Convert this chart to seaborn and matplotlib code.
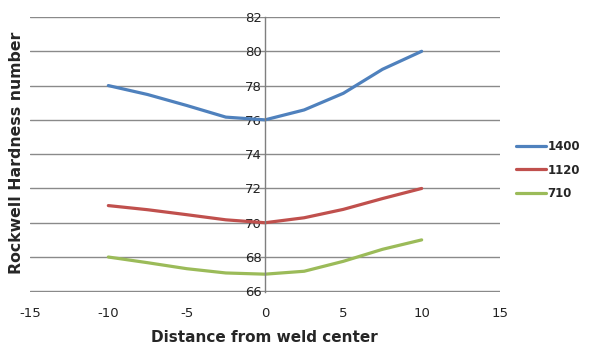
import numpy as np
import pandas as pd
import seaborn as sns
import matplotlib.pyplot as plt

# Valores
distance = [-10, -7.5, -5, -2.5, 0, 2.5, 5, 7.5, 10]
h_1400 = [78, 77.48, 76.84, 76.16, 76.0, 76.58, 77.55, 78.95, 80]
h_1120 = [71, 70.76, 70.47, 70.17, 70.0, 70.29, 70.78, 71.41, 72]
h_710 = [68, 67.67, 67.32, 67.07, 67.0, 67.17, 67.75, 68.45, 69.0]
series = ["1400", "1120", "710"]
colors = ["#4F81BD", "#C0504D", "#9BBB59"]

x_ticks = [-15, -10, -5, 0, 5, 10, 15]
y_ticks = [66, 68, 70, 72, 74, 76, 78, 80, 82]

df = pd.DataFrame({
    "x": distance * 3,
    "y": h_1400 + h_1120 + h_710,
    "serie": [s for s in series for _ in distance],
})

sns.set_style("white")
plt.rcParams['font.family'] = ['DejaVu Sans']

fig = plt.figure(figsize=(5.89, 3.49), dpi=100)
ax = fig.add_axes([30 / 589, 1 - 292 / 349, 470 / 589, 275 / 349])

sns.lineplot(data=df, x="x", y="y", hue="serie", hue_order=series,
             palette=colors, linewidth=2.3, ax=ax, legend=True)

ax.set_xlim(-15, 15)
ax.set_ylim(65.96, 82)
ax.set_xticks(x_ticks)
ax.set_yticks(y_ticks)
ax.set_xticklabels([str(v) for v in x_ticks])
ax.set_yticklabels([str(v) for v in y_ticks])

# líneas de grilla horizontales
ax.grid(axis="y", color="#8a8a8a", linewidth=1)
ax.grid(axis="x", visible=False)
ax.set_axisbelow(True)

for s in ["top", "right", "bottom"]:
    ax.spines[s].set_visible(False)
ax.spines["left"].set_position(("data", 0))
ax.spines["left"].set_color("#7f7f7f")
ax.spines["left"].set_linewidth(1)

ax.tick_params(axis="y", length=0, pad=2, labelsize=9.5, labelcolor="#222222")
ax.tick_params(axis="x", length=0, pad=11, labelsize=9.5, labelcolor="#222222")
ax.set_xlabel("")
ax.set_ylabel("")

fig.text(264 / 589, 1 - 338 / 349, "Distance from weld center",
         ha="center", va="center", fontsize=11, fontweight="bold")
fig.text(17 / 589, 1 - 153 / 349, "Rockwell Hardness number",
         ha="center", va="center", rotation=90, fontsize=11.3, fontweight="bold")

leg = ax.get_legend()
handles = leg.legend_handles
labels = [t.get_text() for t in leg.texts]
leg.remove()
fig.legend(handles, labels, loc="center left",
           bbox_to_anchor=(505 / 589, 1 - 170 / 349), frameon=False,
           handlelength=2.6, handletextpad=0.1, labelspacing=0.9,
           prop={"size": 8.5, "weight": "bold"})

fig.savefig("out.png", dpi=100)
